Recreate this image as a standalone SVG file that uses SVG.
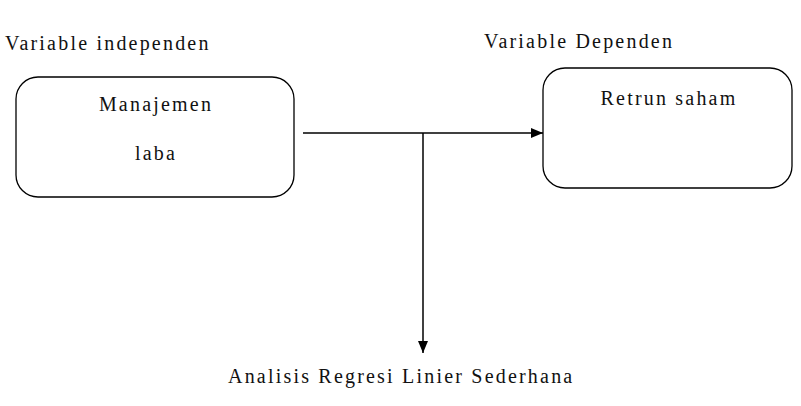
<svg xmlns="http://www.w3.org/2000/svg" width="801" height="406" viewBox="0 0 801 406">
  <defs>
    <marker id="arrow" markerWidth="12" markerHeight="10" refX="12" refY="5" orient="auto" markerUnits="userSpaceOnUse">
      <path d="M0,0 L12,5 L0,10 Z" fill="#000"/>
    </marker>
    <style>
      .box { fill: #fff; stroke: #000; stroke-width: 1.3; }
      .lbl { font-family: 'Liberation Serif', 'DejaVu Serif', serif; font-size: 20px; letter-spacing: 2.2px; fill: #111; }
      .mid { text-anchor: middle; }
      .edge { stroke: #000; stroke-width: 1.5; fill: none; }
    </style>
  </defs>
  <rect width="801" height="406" fill="#fff"/>

  <text class="lbl" x="5" y="50">Variable independen</text>
  <text class="lbl" x="484" y="48">Variable Dependen</text>

  <g id="manajemen-laba">
    <rect class="box" x="16" y="77" width="278" height="120" rx="22" ry="22"/>
    <text class="lbl mid" x="156" y="111">Manajemen</text>
    <text class="lbl mid" x="156" y="160">laba</text>
  </g>

  <g id="retrun-saham">
    <rect class="box" x="543" y="68" width="249" height="120" rx="22" ry="22"/>
    <text class="lbl mid" x="669" y="105">Retrun saham</text>
  </g>

  <g id="connectors">
    <line class="edge" x1="303" y1="133" x2="543" y2="133" marker-end="url(#arrow)"/>
    <line class="edge" x1="423" y1="133" x2="423" y2="353" marker-end="url(#arrow)"/>
  </g>

  <g id="analisis">
    <text class="lbl" x="228" y="383">Analisis Regresi Linier Sederhana</text>
  </g>
</svg>
